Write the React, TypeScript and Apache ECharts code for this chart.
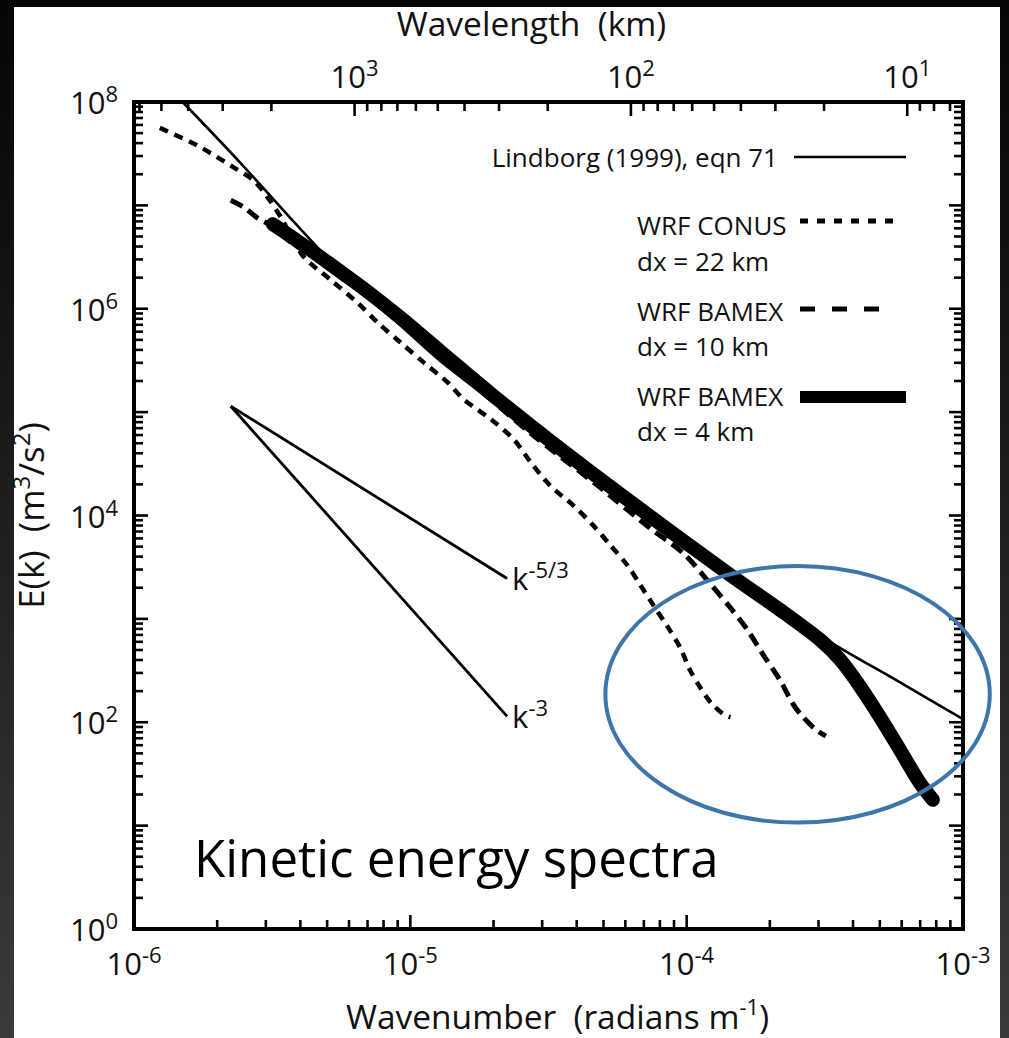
import React, { useEffect, useRef } from "react";
import * as echarts from "echarts";

const FONT = '"Open Sans", "Noto Sans", sans-serif';
const NOTE_FONT = '"Open Sans", "Noto Sans", sans-serif';

// Lindborg (1999), eqn 71 (thin solid)
const lindborgK = [1.5e-6, 2.44e-6, 3.69e-6, 6.08e-6, 9.22e-6, 1.29e-5, 2.5e-5, 4.87e-5, 9.48e-5, 1.85e-4, 3.12e-4, 5.92e-4, 1.0e-3];
const lindborgE = [1.0e8, 2.54e7, 7.5e6, 1.82e6, 6.87e5, 3.09e5, 8.02e4, 2.22e4, 6.01e3, 1.7e3, 656, 243, 107];

// WRF CONUS dx = 22 km (dotted)
const conusK = [1.24e-6, 1.7e-6, 2.3e-6, 2.71e-6, 3.05e-6, 3.4e-6, 3.69e-6, 4.12e-6, 5.15e-6, 6.45e-6, 7.62e-6, 9.22e-6, 1.117e-5, 1.364e-5, 1.56e-5, 1.95e-5, 2.36e-5, 2.72e-5, 3.21e-5, 3.89e-5, 4.59e-5, 5.3e-5, 6.1e-5, 6.8e-5, 7.57e-5, 8.58e-5, 9.48e-5, 1.03e-4, 1.12e-4, 1.22e-4, 1.36e-4, 1.44e-4];
const conusE = [5.62e7, 3.78e7, 2.32e7, 1.74e7, 1.19e7, 7.67e6, 5.15e6, 3.16e6, 1.9e6, 1.14e6, 7.33e5, 4.71e5, 3.03e5, 1.94e5, 1.33e5, 8.57e4, 5.5e4, 3.3e4, 1.94e4, 1.25e4, 8.02e3, 5.15e3, 3.3e3, 2.12e3, 1.36e3, 819, 526, 316, 217, 156, 119, 112];

// WRF BAMEX dx = 10 km (dashed)
const bamex10K = [2.24e-6, 2.5e-6, 2.81e-6, 3.21e-6, 3.69e-6, 4.36e-6, 6.08e-6, 9.22e-6, 1.52e-5, 2.72e-5, 4.87e-5, 7.39e-5, 9.72e-5, 1.22e-4, 1.44e-4, 1.66e-4, 1.89e-4, 2.18e-4, 2.43e-4, 2.64e-4, 2.92e-4, 3.19e-4];
const bamex10E = [1.12e7, 9.57e6, 7.5e6, 6.15e6, 4.41e6, 3.38e6, 1.74e6, 7.33e5, 2.37e5, 6.28e4, 1.86e4, 7.5e3, 4.32e3, 2.17e3, 1.28e3, 783, 451, 254, 149, 112, 85.7, 73.3];

// WRF BAMEX dx = 4 km (thick)
const bamex4K = [3.18e-6, 3.69e-6, 4.62e-6, 5.74e-6, 7.19e-6, 9.22e-6, 1.287e-5, 1.95e-5, 3.21e-5, 6.25e-5, 1.44e-4, 2.18e-4, 3.04e-4, 3.59e-4, 4.24e-4, 5.01e-4, 5.92e-4, 6.98e-4, 7.78e-4];
const bamex4E = [6.57e6, 5.03e6, 3.3e6, 2.17e6, 1.39e6, 8.19e5, 3.86e5, 1.52e5, 5.26e4, 1.36e4, 2.65e3, 1.22e3, 628, 404, 222, 112, 53.8, 25.9, 17.8];

// reference slopes k^-5/3 and k^-3
const refK = [2.24e-6, 2.24e-5];
const ref53E = [1.14e5, 2.46e3];
const ref3E = [1.14e5, 114];

// highlighted region (ellipse bounding box in data units)
const ellipseK = [5.08e-5, 1.25e-3];
const ellipseE = [3.24e3, 10.7];

// axes
const kMin = 1e-6;
const kMax = 1e-3;
const eMin = 1;
const eMax = 1e8;
const wlLeft = 2 * Math.PI / kMin / 1000; // km
const wlRight = 2 * Math.PI / kMax / 1000; // km
const kLabelExps = [-6, -5, -4, -3];
const eLabelExps = [0, 2, 4, 6, 8];
const wlLabelExps = [1, 2, 3];
const kTickDecades = [-6, -5, -4];
const eTickDecades = [0, 1, 2, 3, 4, 5, 6, 7];
const wlTickDecades = [0, 1, 2, 3];
const tickMults = [1, 2, 3, 4, 5, 6, 7, 8, 9];

const zip = (a: number[], b: number[]) => a.map((v, i) => [v, b[i]]);

const kTicks: number[][] = [];
kTickDecades.forEach((d) => tickMults.forEach((m) => {
  const v = m * Math.pow(10, d);
  if (v > kMin * 1.0001) kTicks.push([v, eMin, m === 1 ? 1 : 0]);
}));
const eTicks: number[][] = [];
eTickDecades.forEach((d) => tickMults.forEach((m) => {
  const v = m * Math.pow(10, d);
  if (v > eMin * 1.0001) eTicks.push([kMin, v, m === 1 ? 1 : 0]);
}));
const wlTicks: number[][] = [];
wlTickDecades.forEach((d) => tickMults.forEach((m) => {
  const v = m * Math.pow(10, d);
  if (v > wlRight * 1.0001 && v < wlLeft * 0.9999) wlTicks.push([v, eMax, m === 1 ? 1 : 0]);
}));

const isPow = (v: number) => Math.abs(Math.log10(v) - Math.round(Math.log10(v))) < 1e-6;
const expOf = (v: number) => Math.round(Math.log10(v));
const powLabel = (exps: number[]) => (v: number) =>
  isPow(v) && exps.includes(expOf(v)) ? `{b|10}{s|${expOf(v)}}` : "";

const labelRich = {
  b: { fontSize: 31, lineHeight: 40, fontFamily: FONT, color: "#111" },
  s: { fontSize: 22, lineHeight: 22, verticalAlign: "top", fontFamily: FONT, color: "#111" },
};
const nameRich = {
  n: { fontSize: 33.5, lineHeight: 42, fontFamily: FONT, color: "#111" },
  s: { fontSize: 22, lineHeight: 22, verticalAlign: "top", fontFamily: FONT, color: "#111" },
};
const yNameRich = {
  n: { fontSize: 35, lineHeight: 44, fontFamily: FONT, color: "#111" },
  s: { fontSize: 24, lineHeight: 24, verticalAlign: "top", fontFamily: FONT, color: "#111" },
};

const TICK_MINOR = 9;
const TICK_MAJOR = 14;
const tickStyle = { stroke: "#000", lineWidth: 2.6 };
const LEGEND_FONT = `26px ${FONT}`;

const option: any = {
  animation: false,
  grid: { left: 134, right: 46, top: 102, bottom: 106, show: true, borderColor: "#000", borderWidth: 4, backgroundColor: "transparent" },
  xAxis: [
    {
      type: "log", logBase: 10, min: kMin, max: kMax, position: "bottom",
      axisLine: { show: false }, axisTick: { show: false }, splitLine: { show: false },
      axisLabel: { margin: 14, formatter: powLabel(kLabelExps), rich: labelRich },
      name: "{n|Wavenumber  (radians m}{s|-1}{n|)}", nameLocation: "middle", nameGap: 66,
      nameTextStyle: { rich: nameRich, padding: [0, 0, 0, 18] },
    },
    {
      type: "log", logBase: 10, min: wlRight, max: wlLeft, inverse: true, position: "top",
      axisLine: { show: false }, axisTick: { show: false }, splitLine: { show: false },
      axisLabel: { margin: 6, formatter: powLabel(wlLabelExps), rich: labelRich },
      name: "{n|Wavelength  (km)}", nameLocation: "middle", nameGap: 58,
      nameTextStyle: { rich: nameRich, padding: [0, 34, 0, 0] },
    },
  ],
  yAxis: [
    {
      type: "log", logBase: 10, min: eMin, max: eMax,
      axisLine: { show: false }, axisTick: { show: false }, splitLine: { show: false },
      axisLabel: { margin: 16, formatter: powLabel(eLabelExps), rich: labelRich },
      name: "{n|E(k)  (m}{s|3}{n|/s}{s|2}{n|)}", nameLocation: "middle", nameGap: 82, nameRotate: 90,
      nameTextStyle: { rich: yNameRich },
    },
  ],
  graphic: [
    { type: "text", x: 778, y: 157, z: 10, style: { text: "Lindborg (1999), eqn 71", font: LEGEND_FONT, fill: "#111", align: "right", verticalAlign: "middle" } },
    { type: "line", z: 10, shape: { x1: 794, y1: 157, x2: 906, y2: 157 }, style: { stroke: "#000", lineWidth: 2.6 } },
    { type: "text", x: 637, y: 225, z: 10, style: { text: "WRF CONUS", font: LEGEND_FONT, fill: "#111", align: "left", verticalAlign: "middle" } },
    { type: "text", x: 637, y: 261, z: 10, style: { text: "dx = 22 km", font: LEGEND_FONT, fill: "#111", align: "left", verticalAlign: "middle" } },
    { type: "line", z: 10, shape: { x1: 800, y1: 221, x2: 900, y2: 221 }, style: { stroke: "#000", lineWidth: 5, lineDash: [8, 9] } },
    { type: "text", x: 637, y: 311, z: 10, style: { text: "WRF BAMEX", font: LEGEND_FONT, fill: "#111", align: "left", verticalAlign: "middle" } },
    { type: "text", x: 637, y: 346, z: 10, style: { text: "dx = 10 km", font: LEGEND_FONT, fill: "#111", align: "left", verticalAlign: "middle" } },
    { type: "line", z: 10, shape: { x1: 800, y1: 309, x2: 888, y2: 309 }, style: { stroke: "#000", lineWidth: 5, lineDash: [15, 17] } },
    { type: "text", x: 637, y: 396, z: 10, style: { text: "WRF BAMEX", font: LEGEND_FONT, fill: "#111", align: "left", verticalAlign: "middle" } },
    { type: "text", x: 637, y: 431, z: 10, style: { text: "dx = 4 km", font: LEGEND_FONT, fill: "#111", align: "left", verticalAlign: "middle" } },
    { type: "line", z: 10, shape: { x1: 800, y1: 397, x2: 906, y2: 397 }, style: { stroke: "#000", lineWidth: 12 } },
    { type: "text", x: 194, y: 857, z: 10, style: { text: "Kinetic energy spectra", font: `51px ${NOTE_FONT}`, fill: "#000", align: "left", verticalAlign: "middle" } },
  ],
  series: [
    {
      name: "WRF BAMEX dx = 4 km", type: "line", data: zip(bamex4K, bamex4E), showSymbol: false, symbol: "none", smooth: 0.3, z: 2,
      lineStyle: { color: "#000", width: 14, cap: "round", join: "round" },
    },
    {
      name: "WRF BAMEX dx = 10 km", type: "line", data: zip(bamex10K, bamex10E), showSymbol: false, symbol: "none", smooth: 0.3, z: 3,
      lineStyle: { color: "#000", width: 5, type: [13, 7] },
    },
    {
      name: "WRF CONUS dx = 22 km", type: "line", data: zip(conusK, conusE), showSymbol: false, symbol: "none", smooth: 0.3, z: 3,
      lineStyle: { color: "#000", width: 4.5, type: [9, 7] },
    },
    {
      name: "Lindborg (1999), eqn 71", type: "line", data: zip(lindborgK, lindborgE), showSymbol: false, symbol: "none", smooth: 0.3, z: 4,
      lineStyle: { color: "#000", width: 2.6 },
    },
    {
      name: "k^-5/3", type: "line", data: zip(refK, ref53E), showSymbol: false, symbol: "none", z: 4,
      lineStyle: { color: "#000", width: 2.8 },
      endLabel: { show: true, distance: 5, formatter: "{b|k}{s|-5/3}", rich: labelRich },
    },
    {
      name: "k^-3", type: "line", data: zip(refK, ref3E), showSymbol: false, symbol: "none", z: 4,
      lineStyle: { color: "#000", width: 2.8 },
      endLabel: { show: true, distance: 5, formatter: "{b|k}{s|-3}", rich: labelRich },
    },
    {
      name: "ticks-k", type: "custom", xAxisIndex: 0, yAxisIndex: 0, silent: true, clip: false, z: 6,
      data: kTicks, encode: { x: 0, y: 1 },
      renderItem: (_p: any, api: any) => {
        const p = api.coord([api.value(0), api.value(1)]);
        const len = api.value(2) ? TICK_MAJOR : TICK_MINOR;
        return { type: "line", shape: { x1: p[0], y1: p[1], x2: p[0], y2: p[1] - len }, style: tickStyle };
      },
    },
    {
      name: "ticks-E", type: "custom", xAxisIndex: 0, yAxisIndex: 0, silent: true, clip: false, z: 6,
      data: eTicks, encode: { x: 0, y: 1 },
      renderItem: (_p: any, api: any) => {
        const a = api.coord([kMin, api.value(1)]);
        const b = api.coord([kMax, api.value(1)]);
        const len = api.value(2) ? TICK_MAJOR : TICK_MINOR;
        return {
          type: "group",
          children: [
            { type: "line", shape: { x1: a[0], y1: a[1], x2: a[0] + len, y2: a[1] }, style: tickStyle },
            { type: "line", shape: { x1: b[0], y1: b[1], x2: b[0] - len, y2: b[1] }, style: tickStyle },
          ],
        };
      },
    },
    {
      name: "ticks-wavelength", type: "custom", xAxisIndex: 1, yAxisIndex: 0, silent: true, clip: false, z: 6,
      data: wlTicks, encode: { x: 0, y: 1 },
      renderItem: (_p: any, api: any) => {
        const p = api.coord([api.value(0), api.value(1)]);
        const len = api.value(2) ? TICK_MAJOR : TICK_MINOR;
        return { type: "line", shape: { x1: p[0], y1: p[1], x2: p[0], y2: p[1] + len }, style: tickStyle };
      },
    },
    {
      name: "highlight", type: "custom", xAxisIndex: 0, yAxisIndex: 0, silent: true, clip: false, z: 8,
      data: [[ellipseK[0], ellipseE[0], ellipseK[1], ellipseE[1]]], encode: { x: [0, 2], y: [1, 3] },
      renderItem: (_p: any, api: any) => {
        const a = api.coord([api.value(0), api.value(1)]);
        const b = api.coord([api.value(2), api.value(3)]);
        return {
          type: "ellipse",
          shape: { cx: (a[0] + b[0]) / 2, cy: (a[1] + b[1]) / 2, rx: Math.abs(b[0] - a[0]) / 2, ry: Math.abs(b[1] - a[1]) / 2 },
          style: { fill: "none", stroke: "#3f75a9", lineWidth: 4 },
        };
      },
    },
  ],
};

export default function App() {
  const ref = useRef<HTMLDivElement>(null);
  useEffect(() => {
    const chart = echarts.init(ref.current!, null, { renderer: "svg" });
    chart.setOption(option);
    return () => chart.dispose();
  }, []);
  return (
    <div style={{ position: "fixed", left: 0, top: 0, width: 1009, height: 1038, background: "linear-gradient(to bottom, #050505 0%, #161616 35%, #3a3a3a 100%)" }}>
      <div style={{ position: "absolute", left: 14, top: 7, width: 986, height: 1031, background: "#fff" }} />
      <div ref={ref} style={{ position: "absolute", left: 0, top: 0, width: 1009, height: 1038 }} />
    </div>
  );
}
